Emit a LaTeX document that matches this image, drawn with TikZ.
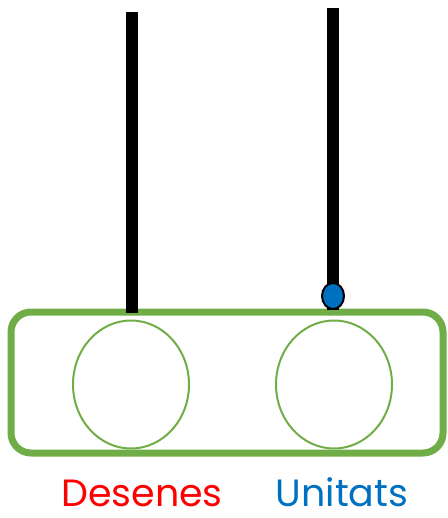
\documentclass[tikz,border=0pt]{standalone}
\usepackage{fontspec}
\setmainfont{Poppins}
\usepackage{tikz}
\usetikzlibrary{shapes.geometric}
\definecolor{verd}{RGB}{112,173,71}
\definecolor{blau}{RGB}{0,112,192}
\tikzstyle{marc} = [draw=verd, line width=7pt, rectangle, rounded corners=20pt, minimum width=432pt, minimum height=141pt, inner sep=0pt]
\tikzstyle{forat} = [draw=verd, line width=2pt, ellipse, minimum width=116pt, minimum height=128pt, inner sep=0pt]
\tikzstyle{vareta} = [line width=12pt, black]
\tikzstyle{bola} = [draw=black, line width=2pt, fill=blau, ellipse, minimum width=22pt, minimum height=26pt, inner sep=0pt]
\tikzstyle{etiqueta} = [anchor=base, inner sep=0pt, font=\fontsize{38}{40}\selectfont]

\begin{document}
\begin{tikzpicture}[x=1pt, y=-1pt]
	\useasboundingbox (0,0) rectangle (447,518);
	\node[marc](abac) at (227,382.5) {};
	\node[forat](desenes) at (131,384.5) {};
	\node[forat](unitats) at (334,384.5) {};
	\coordinate (dalt1) at (132,12);
	\coordinate (dalt2) at (333,8);
	\coordinate (baix1) at (132,313);
	\coordinate (baix2) at (333,310);
	\draw[vareta] (dalt1) -- (baix1);
	\draw[vareta] (dalt2) -- (baix2);
	\node[bola](bola1) at (333,296) {};
	\node[etiqueta, text=red](textD) at (142,506) {Desenes};
	\node[etiqueta, text=blau](textU) at (342,506) {Unitats};
\end{tikzpicture}
\end{document}
